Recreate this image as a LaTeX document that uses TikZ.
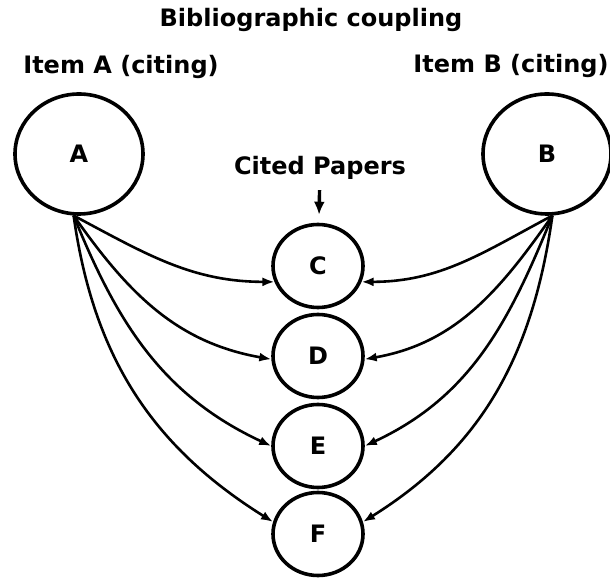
\documentclass[tikz,border=0pt]{standalone}
\usepackage{fontspec}
\setmainfont{DejaVu Sans}
\usetikzlibrary{arrows.meta,shapes.geometric}

\begin{document}
\begin{tikzpicture}[x=1pt,y=1pt,
	heading/.style={anchor=base, inner sep=0pt, font=\bfseries\fontsize{24}{28}\selectfont},
	citing/.style={shape=ellipse, draw=black, line width=3.6pt, minimum width=128pt, minimum height=120pt, inner sep=0pt, font=\bfseries\fontsize{24}{28}\selectfont},
	cited/.style={shape=ellipse, draw=black, line width=3.6pt, minimum width=90pt, minimum height=83pt, inner sep=0pt, font=\bfseries\fontsize{24}{28}\selectfont},
	cite/.style={-{Latex[length=12pt,width=9pt]}, line width=2.6pt},
	pointer/.style={-{Latex[length=13pt,width=11pt]}, line width=3.4pt}]
	\useasboundingbox (0,0) rectangle (610,578);

	\node[heading] (title) at (311,551) {Bibliographic coupling};
	\node[heading] (itemA) at (121,504) {Item A (citing)};
	\node[heading] (itemB) at (511,505) {Item B (citing)};
	\node[heading] (papers) at (320,403) {Cited Papers};

	\node[citing] (A) at (79,424) {A};
	\node[citing] (B) at (547,424) {B};
	\node[cited]  (C) at (318,312) {C};
	\node[cited]  (D) at (318,222) {D};
	\node[cited]  (E) at (318,132) {E};
	\node[cited]  (F) at (318,44)  {F};

	\coordinate (a) at (A.265);
	\coordinate (b) at (B.275);

	\path [pointer, shorten <=10pt, shorten >=8pt] (papers) edge (C);

	\path [cite] (a) edge[out=-28, in=180] (C.200);
	\path [cite] (a) edge[out=-55, in=170] (D.184);
	\path [cite] (a) edge[out=-68, in=155] (E.180);
	\path [cite] (a) edge[out=-82, in=148] (F.165);

	\path [cite] (b) edge[out=208, in=0]  (C.340);
	\path [cite] (b) edge[out=235, in=10] (D.356);
	\path [cite] (b) edge[out=248, in=25] (E.0);
	\path [cite] (b) edge[out=262, in=32] (F.15);
\end{tikzpicture}
\end{document}
